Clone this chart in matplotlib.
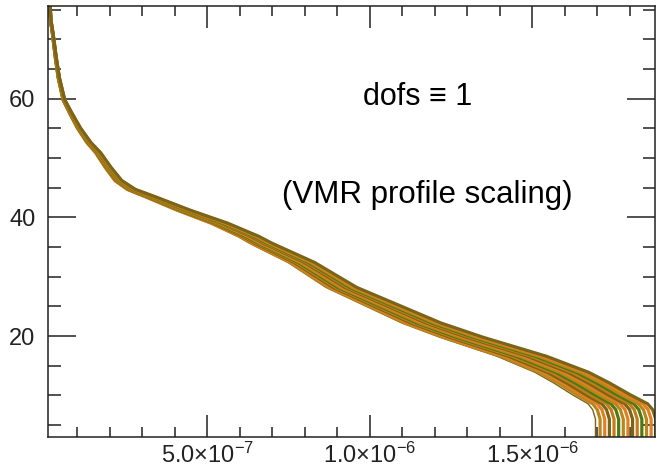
import matplotlib
matplotlib.use("Agg")
import numpy as np
import matplotlib.pyplot as plt
from matplotlib.ticker import FixedLocator, MultipleLocator, FuncFormatter

plt.rcParams['font.family'] = ['Liberation Sans', 'DejaVu Sans']
plt.rcParams['mathtext.fontset'] = 'custom'
plt.rcParams['mathtext.rm'] = 'Liberation Sans'
plt.rcParams['mathtext.it'] = 'Liberation Sans:italic'

# base VMR profile (band centre)
altitude = [75.5, 73.1, 70.9, 66.9, 63.5, 59.8, 57.5, 55.0, 52.6, 50.9, 48.4,
            46.2, 44.7, 43.4, 41.2, 39.0, 36.8, 35.6, 32.4, 28.2, 22.2, 19.8,
            16.6, 13.9, 12.1, 10.1, 8.6, 7.6, 6.0, 3.0]
vmr = [1.6e-8, 1.85e-8, 2.46e-8, 3.38e-8, 4.3e-8, 5.85e-8, 8.0e-8, 1.05e-7,
       1.35e-7, 1.63e-7, 1.94e-7, 2.25e-7, 2.65e-7, 3.26e-7, 4.25e-7, 5.35e-7,
       6.25e-7, 6.65e-7, 7.88e-7, 9.11e-7, 1.157e-6, 1.28e-6, 1.465e-6,
       1.588e-6, 1.649e-6, 1.71e-6, 1.76e-6, 1.775e-6, 1.784e-6, 1.784e-6]

# scaling factors of the plotted profiles
scales = [0.950, 0.958, 0.966, 0.974, 0.982, 0.990, 0.998, 1.006, 1.014,
          1.022, 1.030, 1.038, 1.046, 1.054]
line_colors = ['#4c7a12', '#b8861c', '#e0801e', '#7a6418', '#c77a1a']

xticks = [5e-7, 1e-6, 1.5e-6]
xtick_labels = [r'5.0$\times$10$^{-7}$', r'1.0$\times$10$^{-6}$', r'1.5$\times$10$^{-6}$']
yticks = [20, 40, 60]

W, H = 659, 476
fig = plt.figure(figsize=(W / 100, H / 100), dpi=100)
ax = fig.add_axes([48 / W, 1 - 437 / H, 607 / W, 431 / H])

alt = np.array(altitude)
base = np.array(vmr)
for i, s in enumerate(scales):
    lw = 1.0 if i == 0 else 2.3
    col = '#7a6418' if i == 0 else line_colors[i % len(line_colors)]
    ax.plot(base * s, alt, color=col, lw=lw, solid_joinstyle='round')

ax.set_xlim(1.0e-8, 1.878e-6)
ax.set_ylim(3.0, 75.6)

ax.xaxis.set_major_locator(FixedLocator(xticks))
ax.xaxis.set_major_formatter(FuncFormatter(lambda v, p: xtick_labels[xticks.index(v)] if v in xticks else ''))
ax.xaxis.set_minor_locator(MultipleLocator(1e-7))
ax.yaxis.set_major_locator(FixedLocator(yticks))
ax.yaxis.set_minor_locator(MultipleLocator(5))

ax.tick_params(axis='both', which='both', direction='in', top=True, right=True,
               width=1.1, colors='#222222', labelcolor='#222222', labelsize=17)
ax.tick_params(axis='y', which='major', length=20, pad=9)
ax.tick_params(axis='y', which='minor', length=9)
ax.tick_params(axis='x', which='major', length=16, pad=4)
ax.tick_params(axis='x', which='minor', length=7)
for sp in ax.spines.values():
    sp.set_linewidth(1.1)
    sp.set_color('#222222')

fig.text(363 / W, 1 - 105 / H, 'dofs \u2261 1', fontsize=22, va='baseline', ha='left')
fig.text(282 / W, 1 - 203 / H, '(VMR profile scaling)', fontsize=22.5, va='baseline', ha='left')

fig.savefig('out.png', dpi=100)
